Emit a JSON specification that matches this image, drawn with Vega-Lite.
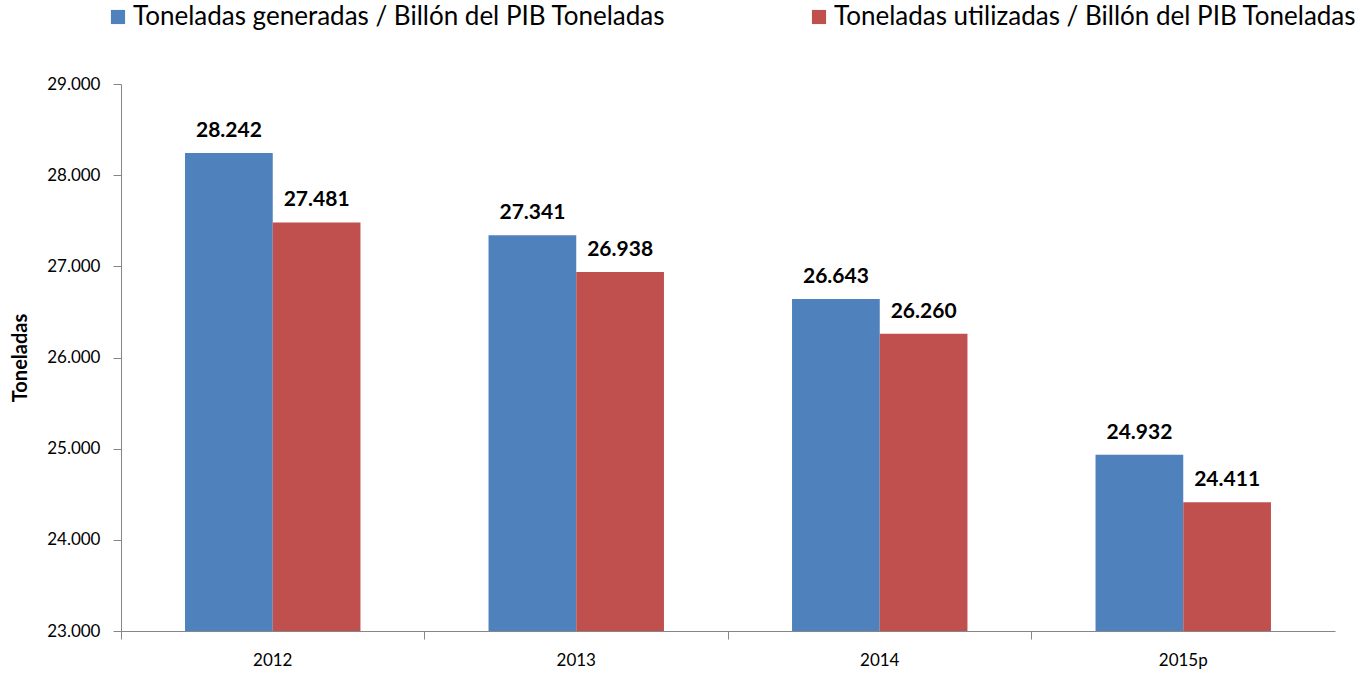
{
  "$schema": "https://vega.github.io/schema/vega-lite/v6.json",
  "width": 1214,
  "height": 547,
  "autosize": {"type": "none"},
  "padding": {"left": 121, "top": 84, "right": 30, "bottom": 42},
  "background": "white",
  "data": {"values": [
    {"year": "2012", "serie": "Toneladas generadas / Billón del PIB Toneladas", "valor": 28.242},
    {"year": "2012", "serie": "Toneladas utilizadas / Billón del PIB Toneladas", "valor": 27.481},
    {"year": "2013", "serie": "Toneladas generadas / Billón del PIB Toneladas", "valor": 27.341},
    {"year": "2013", "serie": "Toneladas utilizadas / Billón del PIB Toneladas", "valor": 26.938},
    {"year": "2014", "serie": "Toneladas generadas / Billón del PIB Toneladas", "valor": 26.643},
    {"year": "2014", "serie": "Toneladas utilizadas / Billón del PIB Toneladas", "valor": 26.260},
    {"year": "2015p", "serie": "Toneladas generadas / Billón del PIB Toneladas", "valor": 24.932},
    {"year": "2015p", "serie": "Toneladas utilizadas / Billón del PIB Toneladas", "valor": 24.411}
  ]},
  "encoding": {
    "x": {"field": "year", "type": "nominal", "sort": null,
      "scale": {"paddingInner": 0, "paddingOuter": 0},
      "axis": {"title": null, "labelAngle": 0, "bandPosition": 0, "labelFont": "Lato", "labelFontSize": 17, "labelColor": "#000", "labelPadding": 13, "domainColor": "#868686", "tickColor": "#868686", "tickSize": 8}},
    "xOffset": {"field": "serie", "type": "nominal", "scale": {"paddingOuter": 0.73, "paddingInner": 0}},
    "y": {"field": "valor", "type": "quantitative",
      "scale": {"domain": [23, 29], "zero": false, "nice": false},
      "axis": {"title": "Toneladas", "titleFont": "Lato", "titleFontSize": 20, "titleFontWeight": "bold", "titleColor": "#000", "titlePadding": 16, "format": ".3f", "values": [23, 24, 25, 26, 27, 28, 29], "labelOverlap": false, "grid": false, "labelFont": "Lato", "labelFontSize": 17, "labelColor": "#000", "labelPadding": 13, "domainColor": "#868686", "tickColor": "#868686", "tickSize": 8}}
  },
  "layer": [
    {"mark": {"type": "bar", "clip": true},
      "encoding": {"y2": {"datum": 23}, "color": {"field": "serie", "type": "nominal",
        "scale": {"range": ["#4F81BD", "#C0504D"]},
        "legend": {"title": null, "orient": "none", "legendX": -20, "legendY": -84, "direction": "horizontal", "columnPadding": 140, "symbolType": "square", "symbolSize": 200, "symbolStrokeWidth": 0, "labelFont": "Lato", "labelFontSize": 26, "labelColor": "#000", "labelLimit": 800, "labelOffset": 2, "padding": 4}}}},
    {"mark": {"type": "text", "dy": -22, "font": "Lato", "fontSize": 21, "fontWeight": "bold", "color": "#000"},
      "encoding": {"text": {"field": "valor", "type": "quantitative", "format": ".3f"}}}
  ],
  "config": {"view": {"stroke": null}}
}
